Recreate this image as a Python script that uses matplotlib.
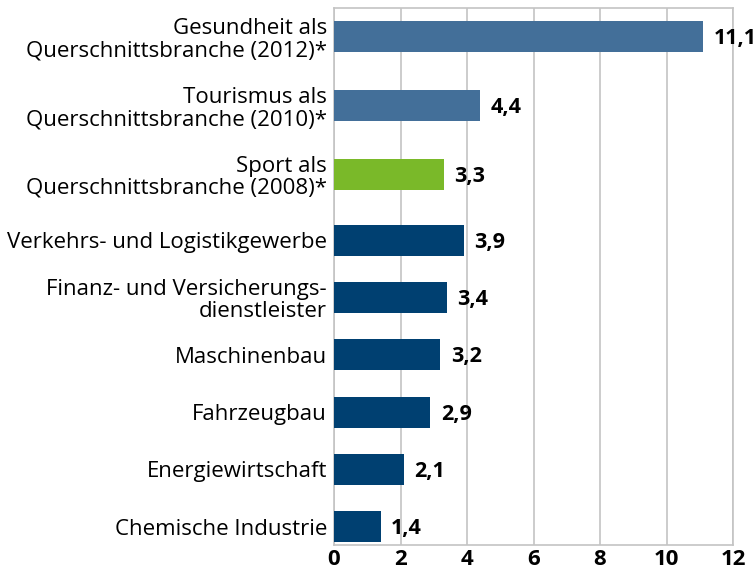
import matplotlib.pyplot as plt
import numpy as np

# Daten (von oben nach unten)
labels = [
    "Gesundheit als\nQuerschnittsbranche (2012)*",
    "Tourismus als\nQuerschnittsbranche (2010)*",
    "Sport als\nQuerschnittsbranche (2008)*",
    "Verkehrs- und Logistikgewerbe",
    "Finanz- und Versicherungs-\ndienstleister",
    "Maschinenbau",
    "Fahrzeugbau",
    "Energiewirtschaft",
    "Chemische Industrie",
]
values = [11.1, 4.4, 3.3, 3.9, 3.4, 3.2, 2.9, 2.1, 1.4]
groups = ["quer", "quer", "sport", "branche", "branche", "branche", "branche", "branche", "branche"]
xticks = [0, 2, 4, 6, 8, 10, 12]

colors = {"quer": "#436f99", "sport": "#7ab929", "branche": "#004071"}
gridc = "#c4c4c4"

# Zeilenabstand: oberste drei Zeilen etwas weiter
gaps = np.array([1.0, 1.0, 1.0, 1.0, 1.0, 1.0, 1.15, 1.2, 1.2])
ypos = np.cumsum(gaps) - gaps[0]      # von unten nach oben
ypos = ypos[::-1]

plt.rcParams['font.family'] = ['Open Sans', 'DejaVu Sans']

fig = plt.figure(figsize=(7.56, 5.73), dpi=100)
ax = fig.add_axes([334/756, 28/573, 399/756, 537/573])

ax.barh(ypos, values, height=0.54, color=[colors[g] for g in groups], zorder=3)

for y, v in zip(ypos, values):
    ax.annotate(f"{v:.1f}".replace(".", ","), (v, y), xytext=(7.5, -1.5),
                textcoords="offset points", va="center", ha="left",
                fontsize=15.5, fontweight="bold", annotation_clip=False, zorder=5)

ax.set_xlim(0, 12)
ax.set_ylim(-0.32, ypos[0] + 0.5)
ax.set_xticks(xticks)
ax.set_xticklabels([str(t) for t in xticks], fontsize=16, fontweight="bold")
ax.set_yticks(ypos)
ax.set_yticklabels(labels, fontsize=16, linespacing=1.08)
ax.tick_params(axis="both", length=0)
ax.tick_params(axis="x", pad=3)
ax.tick_params(axis="y", pad=5)
ax.xaxis.grid(True, color=gridc, linewidth=1.2, zorder=0)
for s in ax.spines.values():
    s.set_color(gridc)
    s.set_linewidth(1.2)
    s.set_zorder(1)

fig.savefig("out.png", dpi=100)
